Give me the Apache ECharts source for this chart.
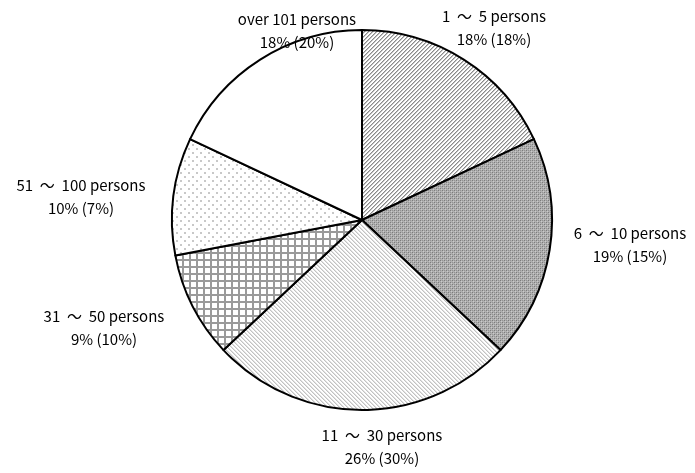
<!DOCTYPE html>
<html>
<head>
<meta charset="utf-8">
<script src="https://cdn.jsdelivr.net/npm/echarts@6/dist/echarts.min.js"></script>
<style>
  html, body { margin: 0; padding: 0; background: #fff; }
  #chart { width: 695px; height: 473px; }
</style>
</head>
<body>
<div id="chart"></div>
<script>
// Company size groups, share this year and share last year (in parentheses)
const categories = ['1  ～  5 persons', '6  ～  10 persons', '11  ～  30 persons', '31  ～  50 persons', '51  ～  100 persons', 'over 101 persons'];
const shareNow = [18, 19, 26, 9, 10, 18];
const sharePrev = [18, 15, 30, 10, 7, 20];

// Where each two-line label sits (centre of the text block)
const labelAnchors = [[494, 28], [630, 245], [382, 447], [104, 328], [81, 197], [297, 31]];

// Small tiled fills drawn on a canvas
function tile(w, h, draw) {
  const c = document.createElement('canvas');
  c.width = w; c.height = h;
  const g = c.getContext('2d');
  g.fillStyle = '#fff';
  g.fillRect(0, 0, w, h);
  draw(g, w, h);
  return { image: c, repeat: 'repeat' };
}
function px(g, x, y, col) { g.fillStyle = col; g.fillRect(x, y, 1, 1); }

const fills = [
  // "/" hatch, medium grey
  tile(4, 4, (g, w) => { for (let i = 0; i < w; i++) { px(g, w - 1 - i, i, '#8a8a8a'); px(g, (w - i) % w, i, '#c4c4c4'); } }),
  // dense grey checker
  tile(4, 4, (g) => {
    g.fillStyle = '#b0b0b0'; g.fillRect(0, 0, 4, 4);
    px(g, 0, 0, '#7c7c7c'); px(g, 2, 2, '#7c7c7c');
    px(g, 2, 0, '#949494'); px(g, 0, 2, '#949494');
    px(g, 1, 1, '#cacaca'); px(g, 3, 3, '#cacaca');
  }),
  // "\" hatch, light grey
  tile(4, 4, (g, w) => { for (let i = 0; i < w; i++) { px(g, i, i, '#c2c2c2'); px(g, (i + 1) % w, i, '#e2e2e2'); } }),
  // square grid
  tile(7, 7, (g) => { g.fillStyle = '#9a9a9a'; g.fillRect(0, 0, 7, 2); g.fillRect(0, 0, 2, 7); }),
  // sparse dots
  tile(8, 8, (g) => { g.fillStyle = '#c8c8c8'; g.fillRect(0, 0, 2, 2); g.fillRect(4, 4, 2, 2); }),
  // plain white
  '#ffffff'
];

const chart = echarts.init(document.getElementById('chart'), null, { renderer: 'canvas' });

chart.setOption({
  animation: false,
  backgroundColor: '#fff',
  series: [{
    type: 'pie',
    center: [362, 220],
    radius: [0, 190],
    startAngle: 90,
    clockwise: true,
    silent: true,
    itemStyle: { borderColor: '#000', borderWidth: 2 },
    label: {
      show: true,
      position: 'outside',
      color: '#000',
      fontFamily: '"Noto Sans CJK JP", "Noto Sans", sans-serif',
      fontSize: 15,
      lineHeight: 23,
      align: 'center',
      overflow: 'none',
      formatter: (p) => categories[p.dataIndex] + '\n' + shareNow[p.dataIndex] + '% (' + sharePrev[p.dataIndex] + '%)'
    },
    labelLine: { show: false },
    labelLayout: (p) => ({ x: labelAnchors[p.dataIndex][0], y: labelAnchors[p.dataIndex][1], align: 'center', verticalAlign: 'middle' }),
    data: categories.map((name, i) => ({ name, value: shareNow[i], itemStyle: { color: fills[i] } }))
  }]
});
</script>
</body>
</html>
